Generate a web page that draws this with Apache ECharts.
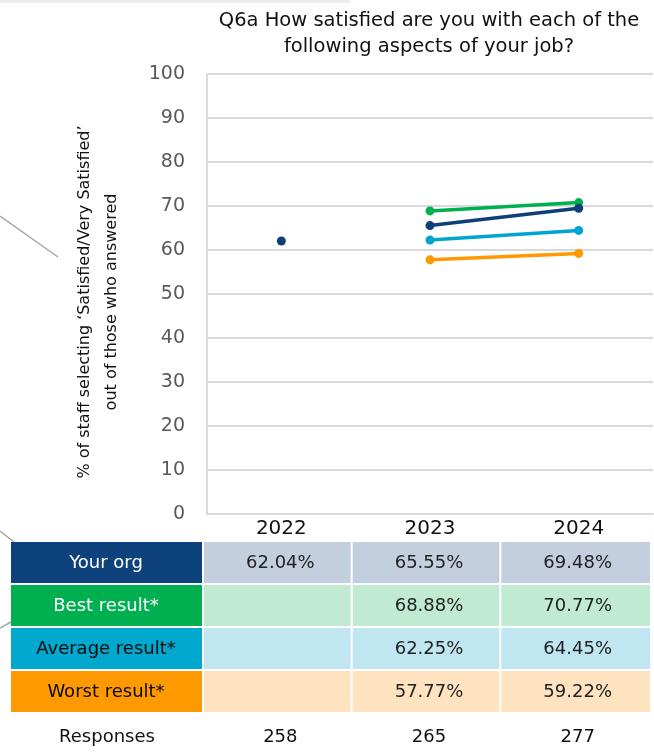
<!DOCTYPE html>
<html><head><meta charset="utf-8">
<script src="https://cdn.jsdelivr.net/npm/echarts@6/dist/echarts.min.js"></script>
<style>html,body{margin:0;padding:0;background:#fff}#c{width:654px;height:756px}</style>
</head><body><div id="c"></div>
<script>
const years = ['2022', '2023', '2024'];
const yourOrg = [62.04, 65.55, 69.48];
const bestResult = [null, 68.88, 70.77];
const averageResult = [null, 62.25, 64.45];
const worstResult = [null, 57.77, 59.22];
const responses = [258, 265, 277];
const rowLabels = ['Your org', 'Best result*', 'Average result*', 'Worst result*'];
const yTicks = [0, 10, 20, 30, 40, 50, 60, 70, 80, 90, 100];

const FONT = '"DejaVu Sans"';
const lineColors = ['#0E3F78', '#00B050', '#00A5CF', '#FF9900'];
const labelBg = ['#0D427D', '#00B050', '#00A8CE', '#FF9900'];
const labelFg = ['#FFFFFF', '#FFFFFF', '#0A0A0A', '#0A0A0A'];
const cellBg = ['#C3CFDF', '#C1EAD3', '#C0E6F1', '#FFE3C0'];
const seriesData = [yourOrg, bestResult, averageResult, worstResult];

// Your org: 2022 stands alone (no connecting line), 2023-2024 joined
const yourOrgLine = yourOrg.map((v, i) => i === 0 ? null : v);
const yourOrgSingle = yourOrg.map((v, i) => i === 0 ? v : null);

const chart = echarts.init(document.getElementById('c'), null, {renderer: 'canvas'});
const fmt = v => v == null ? '' : v.toFixed(2) + '%';

const lineSeries = [yourOrgLine, bestResult, averageResult, worstResult].map((d, i) => ({
  name: rowLabels[i], type: 'line', data: d,
  symbol: 'circle', symbolSize: 9, connectNulls: false,
  lineStyle: {color: lineColors[i], width: 3.5},
  itemStyle: {color: lineColors[i]},
  z: 10 - i
}));
lineSeries.push({
  name: 'Your org 2022', type: 'line', data: yourOrgSingle,
  symbol: 'circle', symbolSize: 9, showAllSymbol: true,
  lineStyle: {width: 0}, itemStyle: {color: lineColors[0]}, z: 10
});

chart.setOption({
  backgroundColor: '#fff',
  animation: false,
  textStyle: {fontFamily: FONT},
  title: {
    text: 'Q6a How satisfied are you with each of the\nfollowing aspects of your job?',
    left: 424, top: 3, textAlign: 'center',
    textStyle: {fontFamily: FONT, fontSize: 19.5, fontWeight: 'normal', color: '#111', lineHeight: 26}
  },
  grid: {left: 207, right: 1, top: 74, bottom: 242},
  xAxis: {
    type: 'category', data: years, boundaryGap: true,
    axisLine: {show: true, lineStyle: {color: '#D9D9D9', width: 2}},
    axisTick: {show: false},
    axisLabel: {fontFamily: FONT, fontSize: 20, color: '#111', margin: 5}
  },
  yAxis: {
    type: 'value', min: 0, max: 100, interval: 10,
    axisLine: {show: true, lineStyle: {color: '#D9D9D9', width: 2}},
    axisTick: {show: false},
    splitLine: {lineStyle: {color: '#D9D9D9', width: 2}},
    axisLabel: {fontFamily: FONT, fontSize: 19, color: '#595959', margin: 22}
  },
  series: lineSeries
});

// Build table & decorations using axis pixel positions
const centers = years.map(y => chart.convertToPixel({xAxisIndex: 0}, y));
const band = centers[1] - centers[0];
const rowTop = [542, 585, 628, 671];
const rowH = 41;
const F = '18px ' + FONT;
const g = [];
g.push({type: 'rect', shape: {x: 0, y: 0, width: 350, height: 3}, style: {fill: '#EDEDED'}, silent: true});
g.push({type: 'line', shape: {x1: 0, y1: 216, x2: 58, y2: 257}, style: {stroke: '#A6A6A6', lineWidth: 1.5}});
g.push({type: 'line', shape: {x1: 0, y1: 531, x2: 14, y2: 542}, style: {stroke: '#A6A6A6', lineWidth: 1.5}});
g.push({type: 'line', shape: {x1: 0, y1: 628, x2: 11, y2: 622}, style: {stroke: '#A6A6A6', lineWidth: 1.5}});
g.push({type: 'text', x: 98, y: 302, rotation: Math.PI / 2,
  style: {text: '% of staff selecting \u2018Satisfied/Very Satisfied\u2019\nout of those who answered',
    font: '16px ' + FONT, fill: '#111', textAlign: 'center', textVerticalAlign: 'middle', lineHeight: 27}});
rowLabels.forEach((lab, r) => {
  const y = rowTop[r];
  g.push({type: 'rect', shape: {x: 11, y, width: 191, height: rowH}, style: {fill: labelBg[r]}});
  g.push({type: 'text', x: 106, y: y + rowH / 2 + 1,
    style: {text: lab, font: F, fill: labelFg[r], textAlign: 'center', textVerticalAlign: 'middle'}});
  centers.forEach((cx, c) => {
    const w = c === centers.length - 1 ? band : band - 2;
    g.push({type: 'rect', shape: {x: cx - band / 2 - 3, y, width: w, height: rowH}, style: {fill: cellBg[r]}});
    g.push({type: 'text', x: cx - 1, y: y + rowH / 2 + 1,
      style: {text: fmt(seriesData[r][c]), font: F, fill: '#222', textAlign: 'center', textVerticalAlign: 'middle'}});
  });
});
g.push({type: 'text', x: 107, y: 737, style: {text: 'Responses', font: F, fill: '#111', textAlign: 'center', textVerticalAlign: 'middle'}});
centers.forEach((cx, c) => {
  g.push({type: 'text', x: cx - 1, y: 737, style: {text: String(responses[c]), font: F, fill: '#111', textAlign: 'center', textVerticalAlign: 'middle'}});
});
chart.setOption({graphic: {elements: g}});
</script>
</body></html>
